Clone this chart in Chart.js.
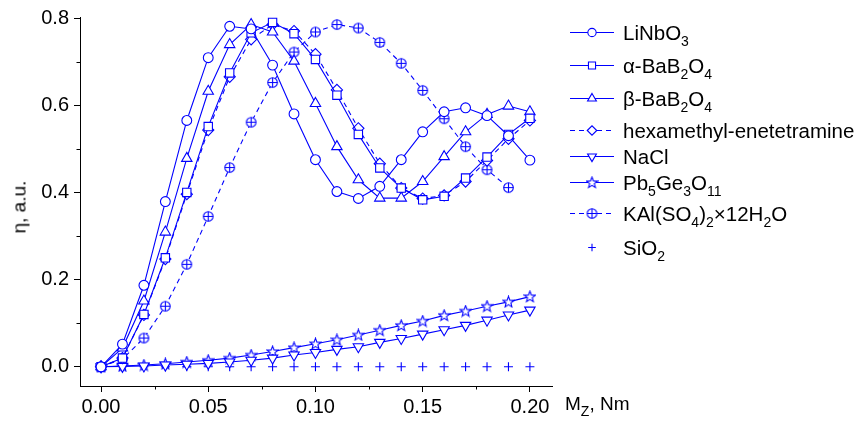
<!DOCTYPE html>
<html><head><meta charset="utf-8">
<script src="https://cdn.jsdelivr.net/npm/chart.js@4.4.0/dist/chart.umd.min.js"></script>
<style>
html,body{margin:0;padding:0;background:#fff;}
#wrap{position:relative;width:858px;height:421px;overflow:hidden;font-family:"Liberation Sans",Arial,sans-serif;color:#000;}
#c{position:absolute;left:0;top:0;}
.row{position:absolute;left:566px;height:24px;white-space:nowrap;}
.row canvas{position:absolute;left:0;top:0;}
.row .t{position:absolute;left:57px;top:0;font-size:20.5px;line-height:20px;}
.row sub,.ttl sub{font-size:14px;vertical-align:-6px;line-height:0;}
.ttl{position:absolute;font-size:19px;line-height:19px;white-space:nowrap;}
#ytitle{left:19px;top:207px;transform:translate(-50%,-50%) rotate(-90deg);}
#xtitle{left:565px;top:394px;}
</style></head>
<body>
<div id="wrap">
<canvas id="c" width="858" height="421"></canvas>
<div id="legend"></div>
<div class="ttl" id="ytitle">η, a.u.</div>
<div class="ttl" id="xtitle">M<sub>Z</sub>, Nm</div>
</div>
<script>
// ---- data ----
const xValues = [0,0.01,0.02,0.03,0.04,0.05,0.06,0.07,0.08,0.09,0.10,0.11,0.12,0.13,0.14,0.15,0.16,0.17,0.18,0.19,0.20];
const xValuesKAl = [0,0.01,0.02,0.03,0.04,0.05,0.06,0.07,0.08,0.09,0.10,0.11,0.12,0.13,0.14,0.15,0.16,0.17,0.18,0.19];
const liNbO3 = [0,0.052,0.187,0.379,0.565,0.709,0.781,0.775,0.692,0.58,0.475,0.402,0.386,0.414,0.475,0.539,0.585,0.594,0.576,0.53,0.474];
const alphaBBO = [0,0.02,0.12,0.25,0.40,0.551,0.674,0.766,0.79,0.764,0.705,0.623,0.533,0.456,0.41,0.383,0.391,0.433,0.481,0.533,0.57];
const betaBBO = [0,0.043,0.151,0.309,0.478,0.632,0.739,0.785,0.768,0.701,0.604,0.505,0.429,0.387,0.387,0.425,0.482,0.539,0.579,0.598,0.585];
const hexamethyl = [0,0.02,0.119,0.247,0.396,0.543,0.665,0.751,0.785,0.770,0.717,0.635,0.547,0.466,0.41,0.386,0.393,0.425,0.473,0.523,0.565];
const naCl = [0,0.001,0.002,0.004,0.006,0.008,0.011,0.015,0.02,0.027,0.033,0.04,0.046,0.056,0.065,0.075,0.085,0.095,0.107,0.119,0.13];
const pb5Ge3O11 = [0,0.002,0.004,0.007,0.011,0.015,0.02,0.027,0.035,0.044,0.053,0.062,0.073,0.084,0.095,0.105,0.118,0.128,0.139,0.149,0.161];
const kalum = [0,0.018,0.066,0.139,0.235,0.345,0.457,0.561,0.652,0.722,0.768,0.785,0.777,0.744,0.696,0.634,0.569,0.505,0.452,0.411];
const siO2 = [0,0,0,0,0,0,0,0,0,0,0,0,0,0,0,0,0,0,0,0,0];
const seriesLabels = ['LiNbO<sub>3</sub>','α-BaB<sub>2</sub>O<sub>4</sub>','β-BaB<sub>2</sub>O<sub>4</sub>','hexamethyl-enetetramine','NaCl','Pb<sub>5</sub>Ge<sub>3</sub>O<sub>11</sub>','KAl(SO<sub>4</sub>)<sub>2</sub>×12H<sub>2</sub>O','SiO<sub>2</sub>'];
const xTickValues = [0,0.05,0.10,0.15,0.20];
const xTickLabels = ['0.00','0.05','0.10','0.15','0.20'];
const xMinorValues = [0.025,0.075,0.125,0.175];
const yTickValues = [0,0.2,0.4,0.6,0.8];
const yTickLabels = ['0.0','0.2','0.4','0.6','0.8'];
const yMinorValues = [0.1,0.3,0.5,0.7];

// ---- styles ----
const BLUE = '#0000ff';
function makeMarker(draw){
  const c=document.createElement('canvas'); c.width=13; c.height=13;
  const g=c.getContext('2d'); g.strokeStyle=BLUE; g.fillStyle='#fff'; g.lineWidth=1.1;
  draw(g,6.5); return c;
}
const starImg = makeMarker((g,c)=>{g.beginPath();for(let i=0;i<10;i++){const r=i%2?2.5:5.8;const a=-Math.PI/2+i*Math.PI/5;g.lineTo(c+r*Math.cos(a),c+0.4+r*Math.sin(a));}g.closePath();g.fill();g.stroke();});
const oplusImg = makeMarker((g,c)=>{g.beginPath();g.arc(c,c,4.8,0,2*Math.PI);g.fill();g.stroke();g.beginPath();g.moveTo(c-4.8,c);g.lineTo(c+4.8,c);g.moveTo(c,c-4.8);g.lineTo(c,c+4.8);g.stroke();});

const styles = [
  {style:'circle',r:4.9,rot:0,dash:[]},
  {style:'rect',r:5.9,rot:0,dash:[]},
  {style:'triangle',r:6,rot:0,dash:[]},
  {style:'rectRot',r:5.6,rot:0,dash:[5,4]},
  {style:'triangle',r:6,rot:180,dash:[]},
  {style:starImg,r:5,rot:0,dash:[]},
  {style:oplusImg,r:5,rot:0,dash:[5,4]},
  {style:'cross',r:4.5,rot:0,dash:[],noLine:true}
];
const seriesData = [liNbO3,alphaBBO,betaBBO,hexamethyl,naCl,pb5Ge3O11,kalum,siO2];
const seriesX = [xValues,xValues,xValues,xValues,xValues,xValues,xValuesKAl,xValues];

const datasets = seriesData.map((d,i)=>({
  label: seriesLabels[i].replace(/<[^>]+>/g,''),
  data: d.map((v,j)=>({x:seriesX[i][j],y:v})),
  borderColor: BLUE, backgroundColor:'#fff',
  borderWidth:1.1, borderDash: styles[i].dash,
  pointStyle: styles[i].style, pointRadius: styles[i].r, pointRotation: styles[i].rot,
  pointBorderColor: BLUE, pointBackgroundColor:'#fff', pointBorderWidth:1.1,
  showLine: !styles[i].noLine, tension:0, clip:false
}));

const minorTicks = {
  id:'minorTicks',
  afterDraw(chart){
    const ctx=chart.ctx, xs=chart.scales.x, ys=chart.scales.y;
    ctx.save(); ctx.strokeStyle='#000'; ctx.lineWidth=1; ctx.beginPath();
    xMinorValues.forEach(v=>{const p=Math.round(xs.getPixelForValue(v))+0.5;ctx.moveTo(p,xs.top);ctx.lineTo(p,xs.top+3.5);});
    yMinorValues.forEach(v=>{const p=Math.round(ys.getPixelForValue(v))+0.5;ctx.moveTo(ys.right,p);ctx.lineTo(ys.right-3.5,p);});
    ctx.stroke(); ctx.restore();
  }
};

const font = {family:'"Liberation Sans", Arial, sans-serif', size:20};
new Chart(document.getElementById('c'),{
  type:'scatter',
  data:{datasets},
  options:{
    responsive:false, animation:false, devicePixelRatio:1,
    layout:{padding:{top:15,right:306,left:0,bottom:0}},
    plugins:{legend:{display:false},tooltip:{enabled:false}},
    scales:{
      x:{type:'linear',min:-0.0098,max:0.2103,
        afterFit(s){s.height=35;},
        afterBuildTicks(s){s.ticks=xTickValues.map(v=>({value:v}));},
        ticks:{color:'#000',font,padding:3,maxRotation:0,autoSkip:false,callback:(v)=>{const i=xTickValues.findIndex(t=>Math.abs(t-v)<1e-9);return i>=0?xTickLabels[i]:'';}},
        grid:{display:true,drawOnChartArea:false,drawTicks:true,tickLength:6,color:'#000'},
        border:{display:true,color:'#000',width:1}},
      y:{type:'linear',min:-0.044,max:0.8023,
        afterFit(s){s.width=80;},
        afterBuildTicks(s){s.ticks=yTickValues.map(v=>({value:v}));},
        ticks:{color:'#000',font,padding:5,autoSkip:false,callback:(v)=>{const i=yTickValues.findIndex(t=>Math.abs(t-v)<1e-9);return i>=0?yTickLabels[i]:'';}},
        grid:{display:true,drawOnChartArea:false,drawTicks:true,tickLength:6,color:'#000'},
        border:{display:true,color:'#000',width:1}}
    }
  },
  plugins:[minorTicks]
});

// ---- legend ----
const legendY = [32,65,98,130,156,182,213,247];
const leg = document.getElementById('legend');
seriesLabels.forEach((lab,i)=>{
  const row=document.createElement('div'); row.className='row'; row.style.top=(legendY[i]-12)+'px';
  const cv=document.createElement('canvas'); cv.width=52; cv.height=24; row.appendChild(cv);
  const g=cv.getContext('2d'); g.strokeStyle=BLUE; g.fillStyle='#fff'; g.lineWidth=1.1;
  if(!styles[i].noLine){g.setLineDash(styles[i].dash);g.beginPath();g.moveTo(4,12.5);g.lineTo(48,12.5);g.stroke();g.setLineDash([]);}
  const st=styles[i];
  const sr = typeof st.style==='string' ? st.r*0.85 : st.r;
  if(Chart.helpers && Chart.helpers.drawPoint){
    Chart.helpers.drawPoint(g,{pointStyle:st.style,radius:sr,rotation:st.rot,borderWidth:1.1},26,12.5);
  }
  const t=document.createElement('div'); t.className='t'; t.innerHTML=lab; t.style.top='3px'; row.appendChild(t);
  leg.appendChild(row);
});
</script>
</body></html>
